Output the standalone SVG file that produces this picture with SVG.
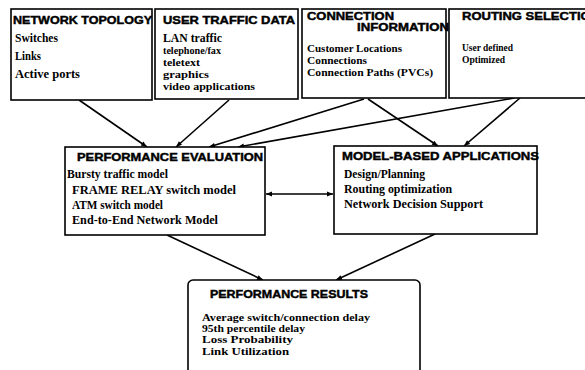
<svg xmlns="http://www.w3.org/2000/svg" width="585" height="370" viewBox="0 0 585 370">
<style>
.box{fill:#fff;stroke:#000;stroke-width:1.6}
.h{font-family:"Liberation Sans",Arial,sans-serif;font-weight:bold;font-size:11.5px;fill:#000;stroke:#000;stroke-width:0.45}
.t{font-family:"Liberation Serif","Times New Roman",serif;font-weight:bold;font-size:12px;fill:#000}
.s{font-size:10.5px}
.c{stroke:#000;stroke-width:1.6;fill:none;marker-end:url(#ah)}
</style>
<defs>
<marker id="ah" viewBox="0 0 10 10" refX="10" refY="5" markerWidth="7" markerHeight="6" orient="auto" markerUnits="userSpaceOnUse"><path d="M0,1 L10,5 L0,9 z" fill="#000"/></marker>
<marker id="as" viewBox="0 0 10 10" refX="0" refY="5" markerWidth="7" markerHeight="6" orient="auto" markerUnits="userSpaceOnUse"><path d="M10,1 L0,5 L10,9 z" fill="#000"/></marker>
</defs>
<rect width="585" height="370" fill="#fff"/>
<g id="connectors">
<line class="c" x1="79" y1="100" x2="147" y2="147"/>
<line class="c" x1="229" y1="100" x2="176" y2="147"/>
<line class="c" x1="364" y1="99" x2="209" y2="147"/>
<line class="c" x1="514" y1="98" x2="238" y2="147"/>
<line class="c" x1="368" y1="99" x2="438" y2="146"/>
<line class="c" x1="520" y1="98" x2="464" y2="146"/>
<line class="c" x1="167" y1="235" x2="263" y2="280"/>
<line class="c" x1="435" y1="234" x2="336" y2="280"/>
<line class="c" style="marker-start:url(#as)" x1="266" y1="194" x2="333" y2="194"/>
</g>
<g id="network-topology">
<rect class="box" x="11" y="9" width="141" height="91"/>
<text class="h" x="13" y="24" textLength="139" lengthAdjust="spacingAndGlyphs">NETWORK TOPOLOGY</text>
<text class="t" x="15" y="42" textLength="43" lengthAdjust="spacingAndGlyphs">Switches</text>
<text class="t" x="15" y="60" textLength="26" lengthAdjust="spacingAndGlyphs">Links</text>
<text class="t" x="15" y="78" textLength="65" lengthAdjust="spacingAndGlyphs">Active ports</text>
</g>
<g id="user-traffic-data">
<rect class="box" x="155" y="9" width="143" height="90"/>
<text class="h" x="163" y="24" textLength="132" lengthAdjust="spacingAndGlyphs">USER TRAFFIC DATA</text>
<text class="t s" x="163" y="42" textLength="59" lengthAdjust="spacingAndGlyphs" style="font-size:11.5px">LAN traffic</text>
<text class="t s" x="163" y="54" textLength="58" lengthAdjust="spacingAndGlyphs">telephone/fax</text>
<text class="t s" x="163" y="66" textLength="37" lengthAdjust="spacingAndGlyphs">teletext</text>
<text class="t s" x="163" y="78" textLength="46" lengthAdjust="spacingAndGlyphs">graphics</text>
<text class="t s" x="163" y="90" textLength="92" lengthAdjust="spacingAndGlyphs">video applications</text>
</g>
<g id="connection-information">
<rect class="box" x="302" y="9" width="144" height="89"/>
<text class="h" x="307" y="20" textLength="87" lengthAdjust="spacingAndGlyphs">CONNECTION</text>
<text class="h" x="357" y="31" textLength="92" lengthAdjust="spacingAndGlyphs">INFORMATION</text>
<text class="t s" x="307" y="52" textLength="95" lengthAdjust="spacingAndGlyphs">Customer Locations</text>
<text class="t s" x="307" y="64" textLength="60" lengthAdjust="spacingAndGlyphs">Connections</text>
<text class="t s" x="307" y="76" textLength="126" lengthAdjust="spacingAndGlyphs">Connection Paths (PVCs)</text>
</g>
<g id="routing-selection">
<rect class="box" x="449" y="9" width="145" height="89"/>
<text class="h" x="462" y="20" textLength="138" lengthAdjust="spacingAndGlyphs">ROUTING SELECTION</text>
<text class="t s" x="462" y="51" textLength="51" lengthAdjust="spacingAndGlyphs">User defined</text>
<text class="t s" x="462" y="63" textLength="43" lengthAdjust="spacingAndGlyphs">Optimized</text>
</g>
<g id="performance-evaluation">
<rect class="box" x="65" y="147" width="200" height="88"/>
<text class="h" x="77" y="161" textLength="186" lengthAdjust="spacingAndGlyphs">PERFORMANCE EVALUATION</text>
<text class="t" x="67" y="178" textLength="101" lengthAdjust="spacingAndGlyphs">Bursty traffic model</text>
<text class="t" x="72" y="194" textLength="164" lengthAdjust="spacingAndGlyphs">FRAME RELAY switch model</text>
<text class="t" x="72" y="209" textLength="91" lengthAdjust="spacingAndGlyphs">ATM switch model</text>
<text class="t" x="72" y="224" textLength="146" lengthAdjust="spacingAndGlyphs">End-to-End Network Model</text>
</g>
<g id="model-based-applications">
<rect class="box" x="334" y="146" width="203" height="88"/>
<text class="h" x="342" y="160" textLength="197" lengthAdjust="spacingAndGlyphs">MODEL-BASED  APPLICATIONS</text>
<text class="t" x="344" y="178" textLength="81" lengthAdjust="spacingAndGlyphs">Design/Planning</text>
<text class="t" x="344" y="193" textLength="108" lengthAdjust="spacingAndGlyphs">Routing optimization</text>
<text class="t" x="344" y="208" textLength="139" lengthAdjust="spacingAndGlyphs">Network Decision Support</text>
</g>
<g id="performance-results">
<rect class="box" x="188" y="280" width="232" height="100" rx="5" ry="5"/>
<text class="h" x="210" y="298" textLength="158" lengthAdjust="spacingAndGlyphs">PERFORMANCE RESULTS</text>
<text class="t s" x="202" y="321" textLength="168" lengthAdjust="spacingAndGlyphs">Average switch/connection delay</text>
<text class="t s" x="202" y="332" textLength="103" lengthAdjust="spacingAndGlyphs">95th percentile delay</text>
<text class="t s" x="202" y="343" textLength="91" lengthAdjust="spacingAndGlyphs">Loss Probability</text>
<text class="t s" x="202" y="355" textLength="87" lengthAdjust="spacingAndGlyphs">Link Utilization</text>
</g>
</svg>
